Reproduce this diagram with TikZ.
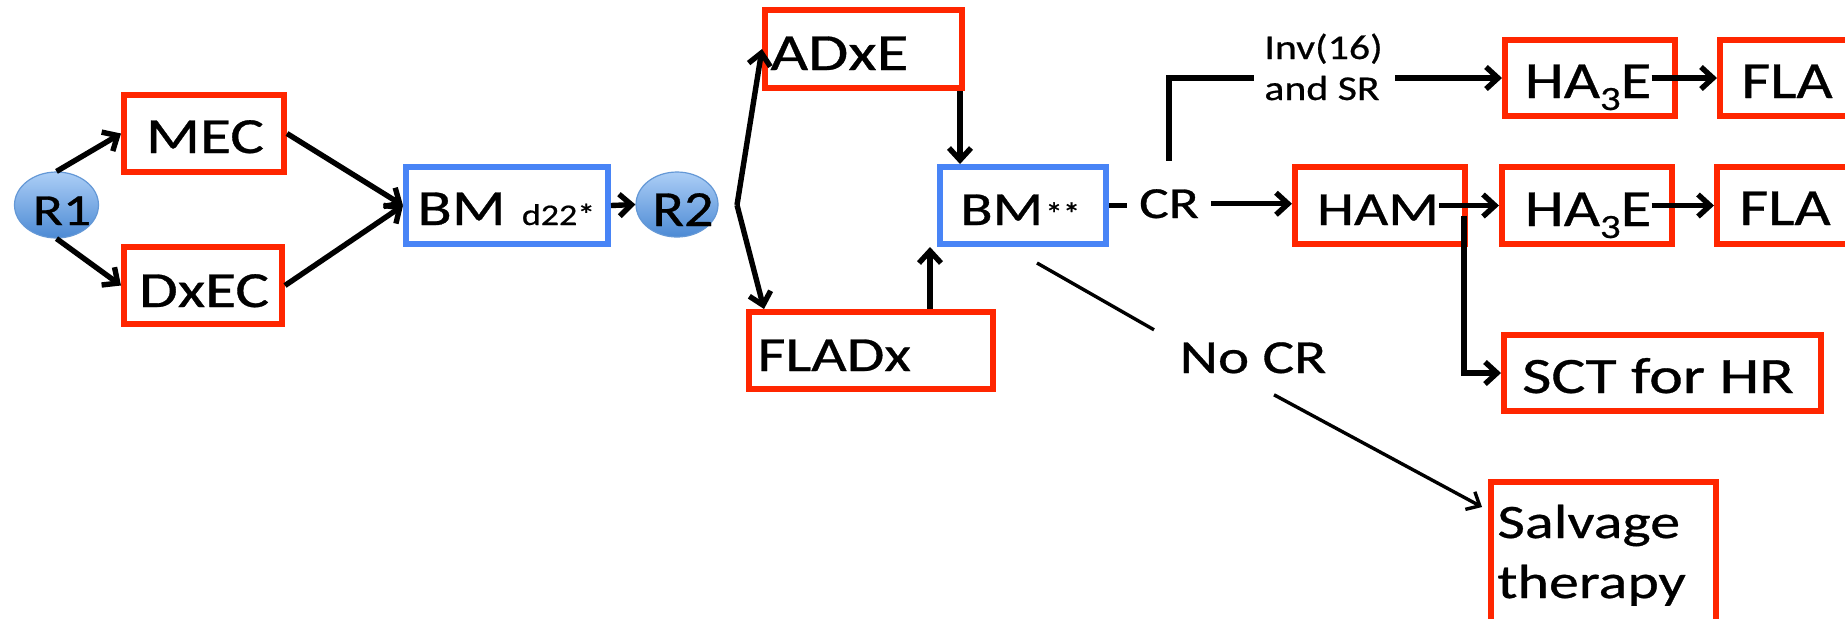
\documentclass[tikz,border=0pt]{standalone}
\usepackage{graphicx}
\usepackage{fontspec}
\setmainfont[FakeBold=0.6]{Carlito}
\usetikzlibrary{arrows.meta,shapes.geometric}

\definecolor{boxred}{RGB}{255,38,0}
\definecolor{boxblue}{RGB}{72,132,246}
\definecolor{ballhi}{RGB}{172,206,246}
\definecolor{balllo}{RGB}{76,138,212}
\definecolor{ballrim}{RGB}{100,152,214}

% horizontally widened lettering
\newcommand{\wide}[2][1.25]{\scalebox{#1}[1]{#2}}
\newcommand{\fs}[1]{\fontsize{#1}{#1}\selectfont}

\begin{document}
\begin{tikzpicture}[x=0.5pt,y=-0.5pt,
  redbox/.style={draw=boxred, line width=3pt, inner sep=0pt, rectangle},
  bluebox/.style={draw=boxblue, line width=3pt, inner sep=0pt, rectangle},
  ball/.style={ellipse, draw=ballrim, line width=0.6pt, top color=ballhi,
    bottom color=balllo, inner sep=0pt},
  lbl/.style={inner sep=0pt, anchor=base},
  link/.style={line width=2.7pt},
  arr/.style={line width=2.7pt, -{Straight Barb[length=6pt,width=11pt]}},
  thinlink/.style={line width=1.7pt},
  thinarr/.style={line width=1.7pt, -{Straight Barb[length=5.5pt,width=10pt]}}]

\useasboundingbox (0,0) rectangle (1845,618);
\clip (0,0) rectangle (1845,618);

% ---- start: first course ----
\node[ball, minimum width=42pt, minimum height=33pt] (r1) at (56.5,205) {};
\node[lbl, font=\fs{22.2}] (tr1) at (62,225) {\wide{R1}};

\node[redbox, minimum width=80pt, minimum height=38.5pt] (mec) at (204,133.5) {};
\node[lbl, font=\fs{25.3}] (tmec) at (205,153) {\wide{MEC}};

\node[redbox, minimum width=79pt, minimum height=38.5pt] (dxec) at (203,285.5) {};
\node[lbl, font=\fs{25.3}] (tdxec) at (204,307) {\wide{DxEC}};

\node[bluebox, minimum width=101pt, minimum height=38.5pt] (bmd) at (507,205.5) {};
\node[lbl, anchor=base west] (tbmd) at (417,225)
  {\fs{25.3}\wide{BM}\hspace{8pt}\fs{15}\wide[1.2]{d22*}};

\node[ball, minimum width=41pt, minimum height=32.5pt] (r2) at (677,204.5) {};
\node[lbl, font=\fs{25.3}] (tr2) at (683,226) {\wide[1.15]{R2}};

\draw[arr] (r1.north) -- (mec.west);
\draw[arr] (r1.south) -- (dxec.west);
\draw[arr] (mec.east) -- (bmd.west);
\draw[arr] (dxec.east) -- (bmd.west);
\draw[arr] (bmd.east) -- (r2.west);

% ---- second course ----
\coordinate (split) at (737,205);
\coordinate (upcol) at (930,0);

\node[redbox, minimum width=98.5pt, minimum height=39pt] (adxe) at (863.5,49) {};
\node[lbl, anchor=base west, font=\fs{26.1}] (tadxe) at (770,70) {\wide{ADxE}};

\node[redbox, minimum width=122pt, minimum height=38.5pt] (fladx) at (871,350.5) {};
\node[lbl, anchor=base west, font=\fs{24.5}] (tfladx) at (757,371) {\wide{FLADx}};

\node[bluebox, minimum width=83pt, minimum height=38.5pt] (bmss) at (1023,205.5) {};
\node[lbl, anchor=base west] (tbmss) at (960,225)
  {\fs{23.7}\wide{BM}\hspace{1pt}\fs{16}\wide[1.1]{**}};

\draw[arr] (split) -- (adxe.west);
\draw[arr] (split) -- ([shift={(18,0)}]fladx.north west);
\draw[arr] ([shift={(-5,0)}]adxe.south east) -- ([shift={(-5,0)}]adxe.south east |- bmss.north);
\draw[arr] (fladx.north -| upcol) -- (bmss.south -| upcol);

% ---- response ----
\node[lbl, inner xsep=6pt, inner ysep=14pt, font=\fs{22.2}] (cr) at (1169,218) {\wide{CR}};
\node[lbl, anchor=base west, align=left, font=\fontsize{17.4}{20.5}\selectfont]
  (inv) at (1264,100) {\wide[1.2]{Inv(16)}\\\wide[1.2]{and SR}};

\node[redbox, minimum width=85pt, minimum height=38pt] (hatop) at (1590,78) {};
\node[lbl, font=\fs{26.1}] (thatop) at (1588,98)
  {\wide[1.2]{HA\raisebox{-6pt}{\fs{17}3}E}};
\node[redbox, minimum width=85pt, minimum height=38pt] (flatop) at (1805,78) {};
\node[lbl, font=\fs{26.1}] (tflatop) at (1787,98) {\wide[1.2]{FLA}};

\node[redbox, minimum width=85pt, minimum height=38.5pt] (ham) at (1380,205.5) {};
\node[lbl, font=\fs{23.7}] (tham) at (1378,225) {\wide{HAM}};
\node[redbox, minimum width=85pt, minimum height=38.5pt] (hamid) at (1587,205.5) {};
\node[lbl, font=\fs{26.1}] (thamid) at (1588,226)
  {\wide[1.2]{HA\raisebox{-6pt}{\fs{17}3}E}};
\node[redbox, minimum width=85pt, minimum height=38.5pt] (flamid) at (1802,205.5) {};
\node[lbl, font=\fs{26.1}] (tflamid) at (1785,225) {\wide[1.2]{FLA}};

\node[redbox, minimum width=158.5pt, minimum height=38pt] (sct) at (1662.5,373) {};
\node[lbl, font=\fs{25.5}] (tsct) at (1658,393) {\wide{SCT for HR}};

\node[lbl, font=\fs{23.7}] (nocr) at (1253,373) {\wide{No CR}};

\node[redbox, minimum width=112.5pt, minimum height=77.5pt] (salv) at (1603.5,559.5) {};
\node[lbl, anchor=base west, align=left, font=\fontsize{24}{30}\selectfont]
  (tsalv) at (1497,598) {\wide{Salvage}\\\wide{therapy}};

\draw[link] (bmss.east) -- (bmss.east -| cr.west);
\draw[arr] (cr.east) -- (cr.east -| ham.west);
\draw[link] (cr.north) |- ([xshift=-5pt]inv.west |- hatop.west);
\draw[arr] ([xshift=6pt]inv.east |- hatop.west) -- (hatop.west);
\draw[arr] (thatop.east |- flatop.west) -- (flatop.west);
\draw[arr] (tham.east |- hamid.west) -- (hamid.west);
\draw[arr] (thamid.east |- flamid.west) -- (flamid.west);
\draw[arr] ([shift={(-4,10)}]ham.east) |- (sct.west);

\draw[thinlink] ([shift={(14,16)}]bmss.south) -- ([shift={(-99,-28)}]nocr.center);
\draw[thinarr] ([shift={(21,37)}]nocr.center) -- ([shift={(-6,28)}]salv.north west);
\end{tikzpicture}
\end{document}
